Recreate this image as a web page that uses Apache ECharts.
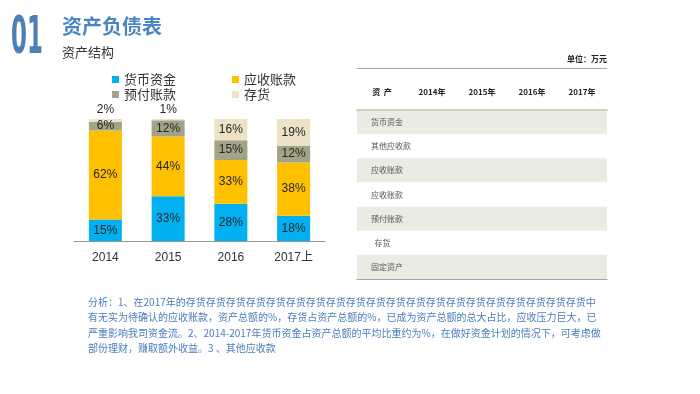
<!DOCTYPE html>
<html>
<head>
<meta charset="utf-8">
<script src="https://cdn.jsdelivr.net/npm/echarts@6/dist/echarts.min.js"></script>
<style>
html,body{margin:0;padding:0;background:#fff;}
#chart{width:700px;height:394px;}
</style>
</head>
<body>
<div id="chart"></div>
<script>
const categories = ['2014', '2015', '2016', '2017上'];
const seriesNames = ['货币资金', '应收账款', '预付账款', '存货'];
const cash = [15, 33, 28, 18];
const receivable = [62, 44, 33, 38];
const prepaid = [6, 12, 15, 12];
const inventory = [2, 1, 16, 19];
const tableCols = ['资  产', '2014年', '2015年', '2016年', '2017年'];
const tableRows = ['货币资金', '其他应收款', '应收账款', '应收账款', '预付账款', '  存货', '固定资产'];
const analysisLines = [
  '分析：1、在2017年的' + '存货'.repeat(20) + '中',
  '有无实为待确认的应收账款，资产总额的%，存货占资产总额的%，已成为资产总额的总大占比，应收压力巨大，已',
  '严重影响我司资金流。2、2014-2017年货币资金占资产总额的平均比重约为%，在做好资金计划的情况下，可考虑做',
  '部份理财，赚取额外收益。3 、其他应收款'
];

const colors = ['#00b0f0', '#ffc000', '#a3a387', '#ede2c6'];
const raw = [cash, receivable, prepaid, inventory];
const totals = categories.map((c, i) => raw.reduce((s, arr) => s + arr[i], 0));

const barSeries = raw.map((arr, k) => ({
  name: seriesNames[k],
  type: 'bar',
  stack: 'total',
  barWidth: 33,
  xAxisIndex: 0,
  yAxisIndex: 0,
  itemStyle: { color: colors[k] },
  label: {
    show: true,
    position: 'inside',
    fontSize: 12,
    fontFamily: 'Liberation Sans, Arial, sans-serif',
    color: '#262626',
    formatter: p => p.data.raw + '%'
  },
  data: arr.map((v, i) => ({
    value: v / totals[i] * 100,
    raw: v,
    label: v < 5 && k === 3 ? { position: 'top', distance: 3 } : undefined
  }))
}));

const chart = echarts.init(document.getElementById('chart'));
const legendBase = {
  icon: 'rect',
  itemWidth: 7,
  itemHeight: 7,
  itemGap: 56,
  padding: 0,
  left: 112,
  textStyle: { fontSize: 13, color: '#333', fontFamily: 'Noto Sans CJK SC, sans-serif' }
};

chart.setOption({
  animation: false,
  backgroundColor: '#fff',
  legend: [
    Object.assign({}, legendBase, { top: 73, data: [seriesNames[0], seriesNames[1]] }),
    Object.assign({}, legendBase, { top: 88, data: [seriesNames[2], seriesNames[3]] })
  ],
  grid: [
    { left: 74, top: 119, width: 251, height: 122 },
    { left: 357, top: 110, width: 250, height: 169 }
  ],
  xAxis: [
    {
      gridIndex: 0,
      type: 'category',
      data: categories,
      axisLine: { lineStyle: { color: '#999' } },
      axisTick: { show: false },
      axisLabel: { fontSize: 12, color: '#333', margin: 11, fontFamily: 'Liberation Sans, Arial, Noto Sans CJK SC, sans-serif' }
    },
    {
      gridIndex: 1,
      type: 'category',
      position: 'top',
      data: tableCols,
      axisLine: { show: true, lineStyle: { color: '#d3d0bd', width: 2 } },
      axisTick: { show: false },
      axisLabel: { fontSize: 8, fontWeight: 'bold', color: '#222', margin: 14, fontFamily: 'Noto Sans CJK SC, sans-serif' }
    },
    {
      gridIndex: 1,
      type: 'category',
      position: 'bottom',
      data: tableCols,
      axisLine: { show: true, lineStyle: { color: '#aaa792', width: 1 } },
      axisTick: { show: false },
      axisLabel: { show: false }
    }
  ],
  yAxis: [
    { gridIndex: 0, type: 'value', min: 0, max: 100, show: false },
    {
      gridIndex: 1,
      type: 'category',
      inverse: true,
      data: tableRows,
      axisLine: { show: false },
      axisTick: { show: false },
      splitLine: { show: false },
      splitArea: { show: true, areaStyle: { color: ['#ecebe3', '#ffffff'] } },
      axisLabel: { inside: true, margin: 14, align: 'left', fontSize: 8, color: '#555', fontFamily: 'Noto Sans CJK SC, sans-serif' }
    }
  ],
  series: barSeries.concat([{ type: 'scatter', xAxisIndex: 1, yAxisIndex: 1, data: [] }]),
  graphic: [
    {
      type: 'text', x: 11, y: 13, scaleX: 0.44, scaleY: 1,
      style: { text: '01', font: 'bold 52px "DejaVu Sans"', fill: '#4a80b6', verticalAlign: 'top' }
    },
    {
      type: 'text', x: 62, y: 26,
      style: { text: '资产负债表', font: 'bold 20px "Noto Sans CJK SC"', fill: '#4a86c3', verticalAlign: 'middle' }
    },
    {
      type: 'text', x: 62, y: 52,
      style: { text: '资产结构', font: '13px "Noto Sans CJK SC"', fill: '#333', verticalAlign: 'middle' }
    },
    {
      type: 'text', x: 607, y: 59,
      style: { text: '单位：万元', font: 'bold 8px "Noto Sans CJK SC"', fill: '#222', align: 'right', verticalAlign: 'middle' }
    },
    {
      type: 'line', shape: { x1: 357, y1: 68.5, x2: 607, y2: 68.5 },
      style: { stroke: '#b3af97', lineWidth: 1 }
    },
    {
      type: 'text', x: 88, y: 294,
      style: {
        text: analysisLines.join('\n'),
        font: '10px "Noto Sans CJK SC"',
        fill: '#4a7ebb',
        lineHeight: 15.5,
        verticalAlign: 'top'
      }
    }
  ]
});
</script>
</body>
</html>
